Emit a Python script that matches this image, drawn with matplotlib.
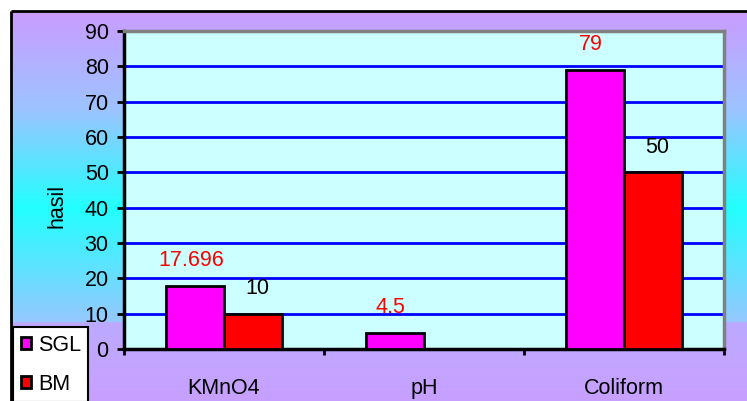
import numpy as np
import matplotlib
matplotlib.use("Agg")
import matplotlib.pyplot as plt
from matplotlib.colors import to_rgb
from matplotlib.patches import Patch

plt.rcParams["font.family"] = ["Liberation Sans", "DejaVu Sans"]

# data
categories = ["KMnO4", "pH", "Coliform"]
series = ["SGL", "BM"]
sgl = [17.696, 4.5, 79]
bm = [10, None, 50]          # pH BM has no value
sgl_labels = ["17.696", "4.5", "79"]
bm_labels = ["10", "", "50"]

W, H = 747, 401
FS = 15.5
fig = plt.figure(figsize=(W / 100, H / 100), dpi=100)
fig.patch.set_facecolor("white")

# background gradient (chart area, starts at px 11,11)
bg = fig.add_axes([0, 0, 1, 1], zorder=-5)
bg.set_xlim(0, W); bg.set_ylim(H, 0); bg.axis("off")
stops = [(11, "#CA9CFF"), (110, "#9CC4FF"), (208, "#22FFFF"),
         (322, "#96C8FF"), (323, "#BCAAFF"), (401, "#C8A0FF")]
ys = np.arange(11, H + 1)
sy = [s[0] for s in stops]
cols = np.array([to_rgb(s[1]) for s in stops])
grad = np.stack([np.interp(ys, sy, cols[:, k]) for k in range(3)], axis=1)
bg.imshow(grad[:, None, :], extent=(11, W, H, 11), aspect="auto",
          interpolation="bilinear")
bg.plot([11, W], [11, 11], color="black", lw=2, solid_capstyle="butt")
bg.plot([11, 11], [11, H], color="black", lw=2, solid_capstyle="butt")

# main axes
x0, x1, y0, y1 = 124, 724, 31, 349
ax = fig.add_axes([x0 / W, 1 - y1 / H, (x1 - x0) / W, (y1 - y0) / H])
ax.set_facecolor("#CCFFFF")
x = np.arange(len(categories))
bw = 0.29
bm_vals = [np.nan if v is None else v for v in bm]
b1 = ax.bar(x - bw / 2, sgl, bw, color="#FF00FF", edgecolor="black", lw=2,
            zorder=3, label=series[0])
b2 = ax.bar(x + bw / 2, bm_vals, bw, color="#FF0000", edgecolor="black", lw=2,
            zorder=3, label=series[1])
for rect, lab in zip(b1, sgl_labels):
    ax.annotate(lab, (rect.get_x() + rect.get_width() / 2, rect.get_height()),
                xytext=(-3, 18.5), textcoords="offset points", ha="center",
                va="center", color="#FF0000", fontsize=FS)
for rect, lab, v in zip(b2, bm_labels, bm_vals):
    if lab:
        ax.annotate(lab, (rect.get_x() + rect.get_width() / 2, v),
                    xytext=(3, 18), textcoords="offset points", ha="center",
                    va="center", color="black", fontsize=FS)

ax.set_xlim(-0.5, len(categories) - 0.5)
ax.set_ylim(0, 90)
ax.set_yticks(range(0, 91, 10))
ax.yaxis.grid(True, color="#0000FF", lw=2, zorder=1)
ax.set_axisbelow(True)
ax.tick_params(axis="y", length=5, width=2, direction="out", pad=6,
               labelsize=FS)
ax.set_xticks(x)
ax.set_xticklabels(categories)
ax.set_xticks(np.arange(-0.5, len(categories)), minor=True)
ax.tick_params(axis="x", which="major", length=0, pad=21, labelsize=FS)
ax.tick_params(axis="x", which="minor", length=4, width=2, direction="out")
for s in ("left", "bottom"):
    ax.spines[s].set_color("black"); ax.spines[s].set_linewidth(2.5)
for s in ("top", "right"):
    ax.spines[s].set_color("#808080"); ax.spines[s].set_linewidth(2.5)
ax.set_ylabel("hasil", fontsize=FS)
ax.yaxis.set_label_coords(-0.095, 0.45)

handles = [Patch(facecolor="#FF00FF", edgecolor="black", lw=2),
           Patch(facecolor="#FF0000", edgecolor="black", lw=2)]
leg = fig.legend(handles, series, loc="upper left",
                 bbox_to_anchor=(13 / W, 1 - 327 / H),
                 bbox_transform=fig.transFigure, fancybox=False,
                 framealpha=1, edgecolor="black", fontsize=FS,
                 handlelength=0.5, handleheight=0.5, handletextpad=0.3,
                 labelspacing=0.85, borderpad=0.35, borderaxespad=0)
leg.get_frame().set_linewidth(1.5)

fig.savefig("out.png", dpi=100)
